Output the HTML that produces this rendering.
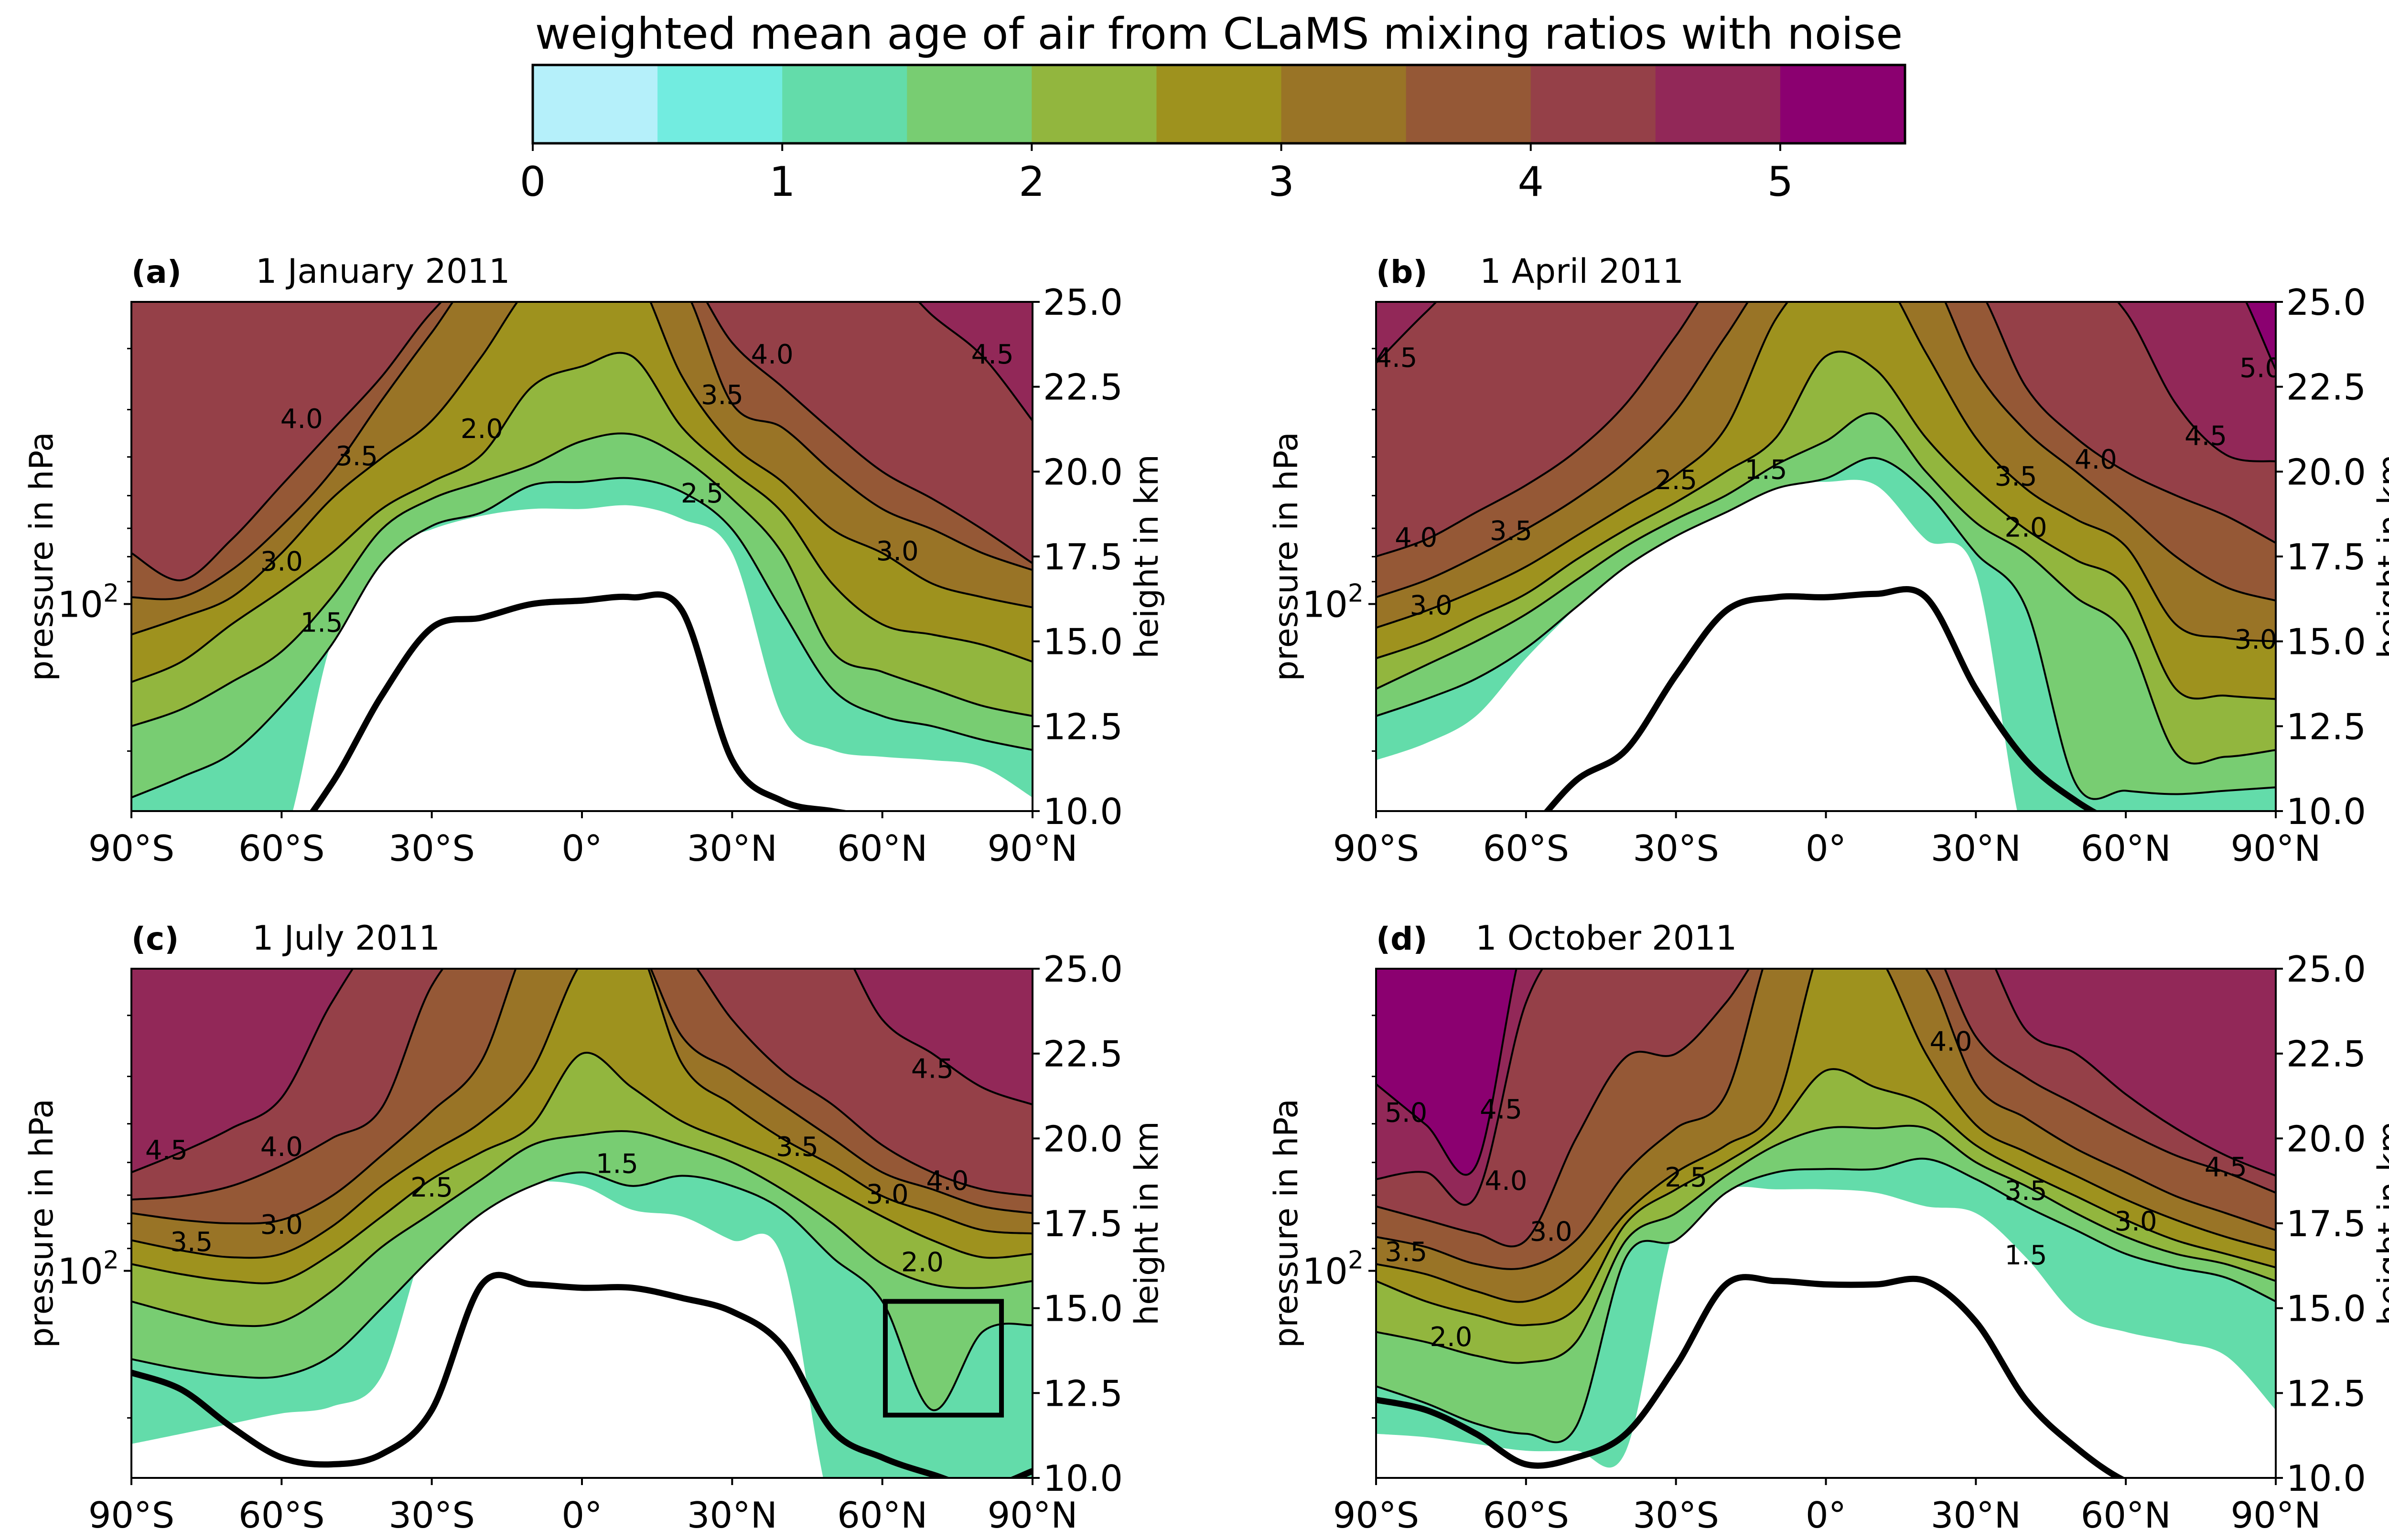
<!DOCTYPE html>
<html><head><meta charset="utf-8">
<style>
html,body{margin:0;padding:0;background:#fff;}
svg{display:block;font-family:"DejaVu Sans","Liberation Sans",sans-serif;}
</style></head>
<body>
<svg id="fig" xmlns="http://www.w3.org/2000/svg" width="5054" height="3224" viewBox="0 0 5054 3224">
<rect x="0" y="0" width="5054" height="3224" fill="#fff"/>
<g id="colorbar"></g>
<g id="panels"></g>
</svg>
<script>
const lats = [-90,-80,-70,-60,-50,-40,-30,-20,-10,0,10,20,30,40,50,60,70,80,90];
const levels = [1.0,1.5,2.0,2.5,3.0,3.5,4.0,4.5,5.0];
const cbTicks = [0,1,2,3,4,5];
const xTickLats = [-90,-60,-30,0,30,60,90];
const xTickLabels = ["90°S","60°S","30°S","0°","30°N","60°N","90°N"];
const kmTicks = [10,12.5,15,17.5,20,22.5,25];
const kmTickLabels = ["10.0","12.5","15.0","17.5","20.0","22.5","25.0"];
const pMinor = [200,90,80,70,60,50,40,30];

// Panel (a) contour heights in km per level
const a10=[9,9,9,9,15.0,17.6,18.3,18.7,18.9,18.9,19.0,18.6,17.6,12.8,11.8,11.6,11.5,11.3,10.4];
const a15=[10.4,11.0,11.7,13.1,14.9,17.3,18.4,18.8,19.6,19.7,19.8,19.4,18.3,15.9,13.6,12.8,12.5,12.1,11.8];
const a20=[12.5,13.0,13.8,14.7,16.3,18.3,19.2,19.7,20.2,20.9,21.1,20.4,19.2,17.6,14.7,14.1,13.6,13.1,12.8];
const a25=[13.8,14.4,15.5,16.5,17.6,18.9,19.7,20.5,22.5,23.1,23.4,21.3,20.0,18.8,16.7,15.5,15.2,14.9,14.4];
const a30=[15.2,15.7,16.3,17.6,19.2,20.4,21.5,23.4,25.5,26,26,22.8,20.8,19.7,18.3,17.6,16.7,16.3,16.0];
const a35=[16.3,16.3,17.1,18.4,20.0,22.1,24.1,26,26,26,26,25.5,22.0,21.3,20.0,18.9,18.3,17.6,17.1];
const a40=[17.6,16.8,18.0,19.6,21.2,22.8,24.7,26,26,26,26,26,23.8,22.5,21.2,20.0,19.2,18.3,17.3];
const a45=[26,26,26,26,26,26,26,26,26,26,26,26,26,26,26,26,24.6,23.4,21.5];
const a50=[26,26,26,26,26,26,26,26,26,26,26,26,26,26,26,26,26,26,26];
const aTrop=[9,9,9,9.0,10.8,13.4,15.4,15.7,16.1,16.2,16.3,15.9,11.5,10.3,10.0,9.8,9.7,9.7,9.7];

// Panel (b)
const b10=[11.5,12.0,12.8,14.5,16.0,17.5,18.5,19.2,19.6,19.7,19.6,18.0,17.0,9,9,9,9,9,9];
const b15=[12.8,13.3,13.9,14.8,16.0,17.2,18.1,18.8,19.5,19.8,20.4,19.4,17.6,16.0,10.8,10.6,10.5,10.6,10.7];
const b20=[13.6,14.3,15.0,15.8,16.8,17.8,18.6,19.3,20.2,20.9,21.7,20.0,18.5,17.6,16.3,15.2,11.7,11.6,11.8];
const b25=[14.5,15.0,15.7,16.4,17.4,18.3,19.1,20.0,21.0,23.4,23.0,21.0,19.5,18.3,17.4,16.6,13.6,13.4,13.3];
const b30=[15.4,15.9,16.5,17.2,18.1,19.0,19.9,21.3,24.5,26,26,23.5,21.0,19.5,18.6,17.8,15.5,15.1,15.0];
const b35=[16.3,16.8,17.5,18.3,19.2,20.3,21.8,24.0,26,26,26,26,23.0,21.2,20.0,18.8,17.5,16.6,16.2];
const b40=[17.5,18.0,18.8,19.6,20.6,22.0,24.0,26,26,26,26,26,25.5,22.5,21.0,20.0,19.3,18.7,17.9];
const b45=[23.2,24.7,26,26,26,26,26,26,26,26,26,26,26,26,26,24.7,22.0,20.5,20.3];
const b50=[26,26,26,26,26,26,26,26,26,26,26,26,26,26,26,26,26,26,23.0];
const bTrop=[8,8,8,9.3,10.9,11.8,14.0,15.9,16.3,16.3,16.4,16.3,13.6,11.5,10.3,9.5,9,9,9];

// Panel (c)
const c10=[11.0,11.3,11.6,11.9,12.1,13.0,17.4,18.2,18.7,18.6,17.9,17.7,17.0,16.5,9,9,9,9,9];
const c15=[13.5,13.2,13.0,13.0,13.6,15.0,16.5,17.8,18.6,19.0,18.6,18.9,18.6,17.9,16.5,15.2,12.0,14.3,14.5];
const c20=[15.2,14.8,14.5,14.6,15.5,16.8,17.8,18.8,19.8,20.1,20.2,19.8,19.3,18.5,17.5,16.3,15.7,15.6,15.8];
const c25=[16.3,16.0,15.8,15.8,16.6,17.7,18.8,19.6,20.4,22.5,21.5,20.5,19.9,19.3,18.5,17.7,17.0,16.5,16.6];
const c30=[17.0,16.7,16.5,16.6,17.4,18.6,19.6,20.5,22.0,25.2,26,22.2,21.0,20.0,19.2,18.3,17.8,17.3,17.2];
const c35=[17.8,17.6,17.5,17.6,18.3,19.5,20.8,22.3,26,26,26,23.0,22.0,21.0,20.0,19.0,18.5,18.0,17.8];
const c40=[18.2,18.3,18.6,19.2,20.0,20.9,24.5,26,26,26,26,25.5,23.5,22.0,21.0,19.8,19.0,18.5,18.3];
const c45=[19.0,19.6,20.3,21.2,24.0,26,26,26,26,26,26,26,26,26,26,23.5,22.5,21.5,21.0];
const c50=[26,26,26,26,26,26,26,26,26,26,26,26,26,26,26,26,26,26,26];
const cTrop=[13.1,12.6,11.5,10.6,10.4,10.7,12.0,15.7,15.7,15.6,15.6,15.3,14.9,13.9,11.4,10.6,10.1,9.7,10.2];

// Panel (d)
const d10=[11.3,11.2,11.0,10.8,10.8,10.8,17.5,18.5,18.5,18.5,18.4,18.0,17.8,16.5,14.8,14.3,14.0,13.6,12.0];
const d15=[12.7,12.2,11.6,11.3,11.5,16.5,17.0,18.4,19.0,19.1,19.1,19.4,18.8,18.0,17.3,16.6,16.2,15.9,15.2];
const d20=[14.3,14.0,13.6,13.4,14.0,17.0,17.8,18.9,19.8,20.3,20.3,20.3,19.3,18.6,17.8,17.1,16.6,16.3,15.8];
const d25=[15.8,15.2,14.8,14.5,15.0,17.5,18.5,19.3,20.3,22.0,21.5,21.0,19.8,19.0,18.3,17.6,17.0,16.6,16.2];
const d30=[16.3,16.0,15.5,15.2,16.0,17.8,19.0,19.8,21.0,26,25.5,22.5,20.4,19.6,18.9,18.2,17.6,17.1,16.7];
const d35=[17.1,16.8,16.3,16.2,17.0,19.0,20.3,21.3,26,26,26,25.0,21.6,20.6,19.7,19.0,18.3,17.8,17.3];
const d40=[18.0,17.6,17.2,17.0,20.0,22.4,22.5,24.0,26,26,26,26,23.0,21.8,21.0,20.2,19.5,19.0,18.4];
const d45=[18.8,19.0,18.3,24.0,26,26,26,26,26,26,26,26,26,23.2,22.5,21.3,20.3,19.5,18.9];
const d50=[21.6,20.4,19.2,26,26,26,26,26,26,26,26,26,26,26,26,26,26,26,26];
const dTrop=[12.3,12.0,11.3,10.4,10.6,11.3,13.3,15.7,15.8,15.7,15.7,15.8,14.6,12.3,10.9,9.9,9.5,9.3,9.2];

const bandColors=["#b5f0fa","#72ece0","#63dcaa","#78cd72","#92b63e","#9e921e","#997426","#955836","#954048","#922858","#8b0070"];
const NS="http://www.w3.org/2000/svg";
function mk(tag, attrs, parent){const e=document.createElementNS(NS,tag);for(const k in attrs)e.setAttribute(k,attrs[k]);if(parent)parent.appendChild(e);return e;}

// Colorbar
(function(){
  const g=document.getElementById('colorbar');
  const x0=1115,x1=3987,y0=136,y1=300,vmax=5.5;
  const cx=v=>x0+(v/vmax)*(x1-x0);
  for(let i=0;i<11;i++){
    const r=mk('rect',{x:cx(i*0.5),y:y0,width:cx(0.5)-cx(0)+1,height:y1-y0,fill:bandColors[i]},g);
    
    
  }
  mk('rect',{x:x0,y:y0,width:x1-x0,height:y1-y0,fill:'none',stroke:'#000','stroke-width':5},g);
  cbTicks.forEach(v=>{
    mk('line',{x1:cx(v),x2:cx(v),y1:y1,y2:y1+16,stroke:'#000','stroke-width':4},g);
    const t=mk('text',{x:cx(v),y:410,'font-size':86,'text-anchor':'middle'},g);
    t.textContent=v;
    
    
  });
  const tt=mk('text',{x:(x0+x1)/2,y:102,'font-size':91,'text-anchor':'middle'},g);
  tt.textContent='weighted mean age of air from CLaMS mixing ratios with noise';
  
  
})();

function smoothPath(pts){
  let d='M'+pts[0][0].toFixed(1)+','+pts[0][1].toFixed(1);
  for(let i=0;i<pts.length-1;i++){
    const p0=pts[Math.max(0,i-1)],p1=pts[i],p2=pts[i+1],p3=pts[Math.min(pts.length-1,i+2)];
    const c1=[p1[0]+(p2[0]-p0[0])/6,p1[1]+(p2[1]-p0[1])/6];
    const c2=[p2[0]-(p3[0]-p1[0])/6,p2[1]-(p3[1]-p1[1])/6];
    d+='C'+c1[0].toFixed(1)+','+c1[1].toFixed(1)+' '+c2[0].toFixed(1)+','+c2[1].toFixed(1)+' '+p2[0].toFixed(1)+','+p2[1].toFixed(1);
  }
  return d;
}

function drawPanel(cfg){
  const root=document.getElementById('panels');
  const g=mk('g',{},root);
  
  
  const {x0,y0,w,h}=cfg;
  const xs=lat=>x0+(lat+90)/180*w;
  const ys=km=>y0+(25-km)/15*h;
  const clipId='clip-'+cfg.id;
  const defs=mk('defs',{},g);
  const cp=mk('clipPath',{id:clipId},defs);
  mk('rect',{x:x0,y:y0,width:w,height:h},cp);
  const plot=mk('g',{'clip-path':'url(#'+clipId+')'},g);
  
  
  mk('rect',{x:x0,y:y0,width:w,height:h,fill:'#fff'},plot);
  cfg.curves.forEach((vals,i)=>{
    const pts=lats.map((la,j)=>[xs(la),ys(vals[j])]);
    const d=smoothPath(pts)+'L'+(x0+w+50)+','+pts[pts.length-1][1].toFixed(1)+'L'+(x0+w+50)+','+(y0-50)+'L'+(x0-50)+','+(y0-50)+'L'+(x0-50)+','+pts[0][1].toFixed(1)+'Z';
    const f=mk('path',{d:d,fill:bandColors[i+2],stroke:'none'},plot);
    
    
  });
  cfg.curves.forEach((vals,i)=>{
    if(i===0) return;
    const pts=lats.map((la,j)=>[xs(la),ys(vals[j])]);
    const l=mk('path',{d:smoothPath(pts),fill:'none',stroke:'#000','stroke-width':4},plot);
    
    
  });
  const tp=lats.map((la,j)=>[xs(la),ys(cfg.trop[j])]);
  const tl=mk('path',{d:smoothPath(tp),fill:'none',stroke:'#000','stroke-width':13,'stroke-linejoin':'round'},plot);
  
  
  cfg.labels.forEach(lb=>{
    const t=mk('text',{x:xs(lb[0]),y:ys(lb[1]),'font-size':56,'text-anchor':'middle','dominant-baseline':'middle'},plot);
    t.textContent=lb[2];
    
    
  });
  if(cfg.box){
    const b=cfg.box;
    const r=mk('rect',{x:xs(b[0]),y:ys(b[3]),width:xs(b[1])-xs(b[0]),height:ys(b[2])-ys(b[3]),fill:'none',stroke:'#000','stroke-width':10},plot);
    
    
  }
  mk('rect',{x:x0,y:y0,width:w,height:h,fill:'none',stroke:'#000','stroke-width':4},g);
  xTickLats.forEach((la,i)=>{
    mk('line',{x1:xs(la),x2:xs(la),y1:y0+h,y2:y0+h+15,stroke:'#000','stroke-width':4},g);
    const t=mk('text',{x:xs(la),y:y0+h+104,'font-size':75,'text-anchor':'middle'},g);
    t.textContent=xTickLabels[i];
    
    
  });
  kmTicks.forEach((k,i)=>{
    mk('line',{x1:x0+w,x2:x0+w+15,y1:ys(k),y2:ys(k),stroke:'#000','stroke-width':4},g);
    const t=mk('text',{x:x0+w+22,y:ys(k)+27,'font-size':75},g);
    t.textContent=kmTickLabels[i];
    
    
  });
  const pz=p=>16.1+6.25*Math.log(100/p);
  mk('line',{x1:x0,x2:x0-16,y1:ys(pz(100)),y2:ys(pz(100)),stroke:'#000','stroke-width':4},g);
  pMinor.forEach(p=>{mk('line',{x1:x0,x2:x0-9,y1:ys(pz(p)),y2:ys(pz(p)),stroke:'#000','stroke-width':3},g);});
  const pl=mk('text',{x:x0-26,y:ys(pz(100))+27,'font-size':75,'text-anchor':'end'},g);
  pl.innerHTML='10<tspan dy="-32" font-size="52">2</tspan>';
  
  
  const yl=mk('text',{x:0,y:0,'font-size':68,'text-anchor':'middle',transform:'translate('+(x0-165)+','+(y0+h/2)+') rotate(-90)'},g);
  yl.textContent='pressure in hPa';
  
  
  const yr=mk('text',{x:0,y:0,'font-size':68,'text-anchor':'middle',transform:'translate('+(x0+w+262)+','+(y0+h/2)+') rotate(-90)'},g);
  yr.textContent='height in km';
  
  
  const pt=mk('text',{x:x0,y:y0-40,'font-size':66,'font-weight':'bold'},g);
  pt.textContent=cfg.tag;
  
  
  const dt=mk('text',{x:cfg.dateX,y:y0-40,'font-size':70},g);
  dt.textContent=cfg.date;
  
  
}

drawPanel({id:'a',x0:275,y0:632,w:1886,h:1066,curves:[a10,a15,a20,a25,a30,a35,a40,a45,a50],trop:aTrop,tag:'(a)',date:'1 January 2011',dateX:535,
  labels:[[-52,15.5,'1.5'],[-60,17.3,'3.0'],[-45,20.4,'3.5'],[-56,21.5,'4.0'],[-20,21.2,'2.0'],[24,19.3,'2.5'],[28,22.2,'3.5'],[38,23.4,'4.0'],[63,17.6,'3.0'],[82,23.4,'4.5']],box:null});
drawPanel({id:'b',x0:2880,y0:632,w:1883,h:1066,curves:[b10,b15,b20,b25,b30,b35,b40,b45,b50],trop:bTrop,tag:'(b)',date:'1 April 2011',dateX:3097,
  labels:[[-86,23.3,'4.5'],[-79,16.0,'3.0'],[-82,18.0,'4.0'],[-63,18.2,'3.5'],[-30,19.7,'2.5'],[-12,20.0,'1.5'],[40,18.3,'2.0'],[38,19.8,'3.5'],[54,20.3,'4.0'],[86,15.0,'3.0'],[76,21.0,'4.5'],[87,23.0,'5.0']],box:null});
drawPanel({id:'c',x0:275,y0:2028,w:1886,h:1066,curves:[c10,c15,c20,c25,c30,c35,c40,c45,c50],trop:cTrop,tag:'(c)',date:'1 July 2011',dateX:528,
  labels:[[-83,19.6,'4.5'],[-78,16.9,'3.5'],[-60,17.4,'3.0'],[-60,19.7,'4.0'],[-30,18.5,'2.5'],[7,19.2,'1.5'],[43,19.7,'3.5'],[61,18.3,'3.0'],[68,16.3,'2.0'],[73,18.7,'4.0'],[70,22.0,'4.5']],box:[60.6,83.8,11.85,15.2]});
drawPanel({id:'d',x0:2880,y0:2028,w:1883,h:1066,curves:[d10,d15,d20,d25,d30,d35,d40,d45,d50],trop:dTrop,tag:'(d)',date:'1 October 2011',dateX:3088,
  labels:[[-84,20.7,'5.0'],[-65,20.8,'4.5'],[-64,18.7,'4.0'],[-84,16.6,'3.5'],[-75,14.1,'2.0'],[-55,17.2,'3.0'],[-28,18.8,'2.5'],[25,22.8,'4.0'],[40,18.4,'3.5'],[40,16.5,'1.5'],[62,17.5,'3.0'],[80,19.1,'4.5']],box:null});
</script>
</body></html>
